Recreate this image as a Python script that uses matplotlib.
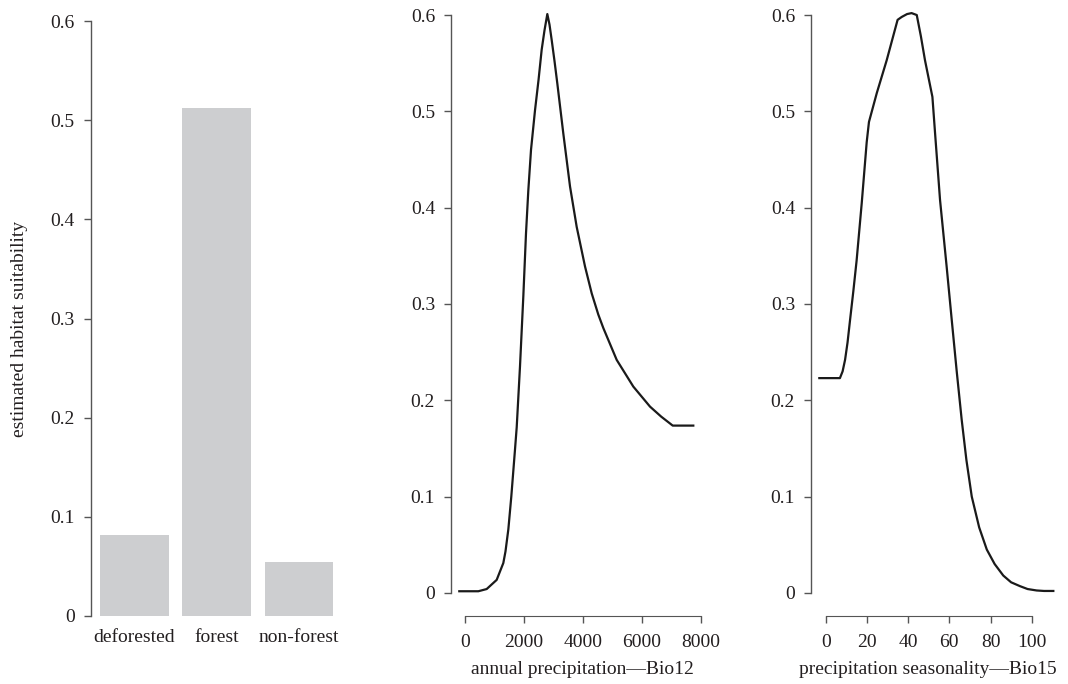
import matplotlib
matplotlib.use("Agg")
import matplotlib.pyplot as plt
from matplotlib.ticker import FixedLocator, FixedFormatter

plt.rcParams['font.family'] = ['Liberation Serif', 'DejaVu Serif']

# ---- data ----
land_classes = ["deforested", "forest", "non-forest"]
land_suit = [0.082, 0.512, 0.054]

bio12_x = [-183, 179, 462, 744, 1082, 1307, 1380, 1477, 1577, 1700, 1760, 1871,
           1984, 2074, 2153, 2244, 2379, 2500, 2605, 2700, 2796, 2870, 2944,
           3040, 3134, 3337, 3564, 3790, 4071, 4298, 4521, 4691, 5144, 5706,
           6271, 6650, 7039, 7736]
bio12_y = [0.0017, 0.0017, 0.0017, 0.004, 0.0135, 0.031, 0.043, 0.066, 0.100,
           0.148, 0.172, 0.235, 0.308, 0.373, 0.418, 0.460, 0.501, 0.533, 0.564,
           0.584, 0.601, 0.590, 0.574, 0.552, 0.529, 0.477, 0.422, 0.380, 0.339,
           0.311, 0.289, 0.275, 0.2419, 0.2142, 0.1934, 0.183, 0.1737, 0.1737]

bio15_x = [-3.1, 6.9, 8.2, 9.4, 10.6, 11.8, 13.4, 15.0, 17.5, 19.9, 21.0, 24.8,
           29.6, 34.9, 36.9, 39.5, 41.7, 44.2, 46.2, 48.2, 51.8, 53.1, 55.5,
           58.7, 61.2, 63.6, 66.0, 68.3, 70.9, 74.5, 78.2, 82.0, 86.2, 90.0,
           94.3, 98.0, 102.4, 106.0, 110.5]
bio15_y = [0.223, 0.223, 0.230, 0.242, 0.260, 0.283, 0.313, 0.345, 0.405, 0.468,
           0.489, 0.519, 0.553, 0.595, 0.598, 0.601, 0.602, 0.600, 0.578, 0.553,
           0.515, 0.477, 0.408, 0.339, 0.283, 0.230, 0.180, 0.138, 0.100, 0.068,
           0.045, 0.030, 0.018, 0.011, 0.007, 0.004, 0.0025, 0.002, 0.002]

y_ticks = [0, 0.1, 0.2, 0.3, 0.4, 0.5, 0.6]
y_tick_labels = ["0", "0.1", "0.2", "0.3", "0.4", "0.5", "0.6"]
bio12_ticks = [0, 2000, 4000, 6000, 8000]
bio15_ticks = [0, 20, 40, 60, 80, 100]

ylabel = "estimated habitat suitability"
xlabel12 = "annual precipitation\u2014Bio12"
xlabel15 = "precipitation seasonality\u2014Bio15"

# ---- figure ----
W, H = 1068, 684
fig = plt.figure(figsize=(W / 100, H / 100), dpi=100)
TXT = '#231f20'
AX = '#555555'
LINE = '#1a1a1a'
FS = 14

def px_axes(x0, x1, y_top, y_bot):
    return fig.add_axes([x0 / W, 1 - y_bot / H, (x1 - x0) / W, (y_bot - y_top) / H])

def style_y(ax):
    for s in ['top', 'right']:
        ax.spines[s].set_visible(False)
    ax.spines['left'].set_bounds(0, 0.6)
    ax.spines['left'].set_color(AX)
    ax.spines['left'].set_linewidth(1.0)
    ax.yaxis.set_major_locator(FixedLocator(y_ticks))
    ax.yaxis.set_major_formatter(FixedFormatter(y_tick_labels))
    ax.tick_params(axis='y', length=5, width=1.0, color=AX, pad=6.5,
                   labelsize=FS, labelcolor=TXT)

# left: bar chart
ax1 = px_axes(90.7, 342.4, 0, 616)
centers = [0.7 + 1.2 * i for i in range(len(land_classes))]
ax1.bar(centers, land_suit, width=1.0, color='#cdced0', edgecolor='none')
ax1.set_xlim(0.064, 3.736)
ax1.set_ylim(0, 0.6212)
style_y(ax1)
ax1.spines['bottom'].set_visible(False)
ax1.set_xticks(centers)
ax1.set_xticklabels(land_classes)
ax1.tick_params(axis='x', length=0, pad=9, labelsize=FS, labelcolor=TXT)

# middle
ax2 = px_axes(451, 702.7, 0, 616)
ax2.plot(bio12_x, bio12_y, color=LINE, lw=1.6, solid_joinstyle='round')
ax2.set_xlim(-463.6, 8054)
ax2.set_ylim(-0.024, 0.6156)
style_y(ax2)
ax2.spines['bottom'].set_bounds(0, 8000)
ax2.spines['bottom'].set_color(AX)
ax2.set_xticks(bio12_ticks)
ax2.set_xticklabels([str(t) for t in bio12_ticks])
ax2.tick_params(axis='x', length=5, width=1.0, color=AX, pad=8,
                labelsize=FS, labelcolor=TXT)

# right
ax3 = px_axes(811, 1062.6, 0, 616)
ax3.plot(bio15_x, bio15_y, color=LINE, lw=1.6, solid_joinstyle='round')
ax3.set_xlim(-7.14, 115.0)
ax3.set_ylim(-0.024, 0.6156)
style_y(ax3)
ax3.spines['bottom'].set_bounds(0, 100)
ax3.spines['bottom'].set_color(AX)
ax3.set_xticks(bio15_ticks)
ax3.set_xticklabels([str(t) for t in bio15_ticks])
ax3.tick_params(axis='x', length=5, width=1.0, color=AX, pad=8,
                labelsize=FS, labelcolor=TXT)

fig.text(20 / W, 1 - 329 / H, ylabel, rotation=90, ha='center', va='center',
         fontsize=FS, color=TXT)
fig.text(582.7 / W, 1 - 670 / H, xlabel12, ha='center', va='center',
         fontsize=FS, color=TXT)
fig.text(928.3 / W, 1 - 670 / H, xlabel15, ha='center', va='center',
         fontsize=FS, color=TXT)

fig.savefig("out.png", dpi=100)
